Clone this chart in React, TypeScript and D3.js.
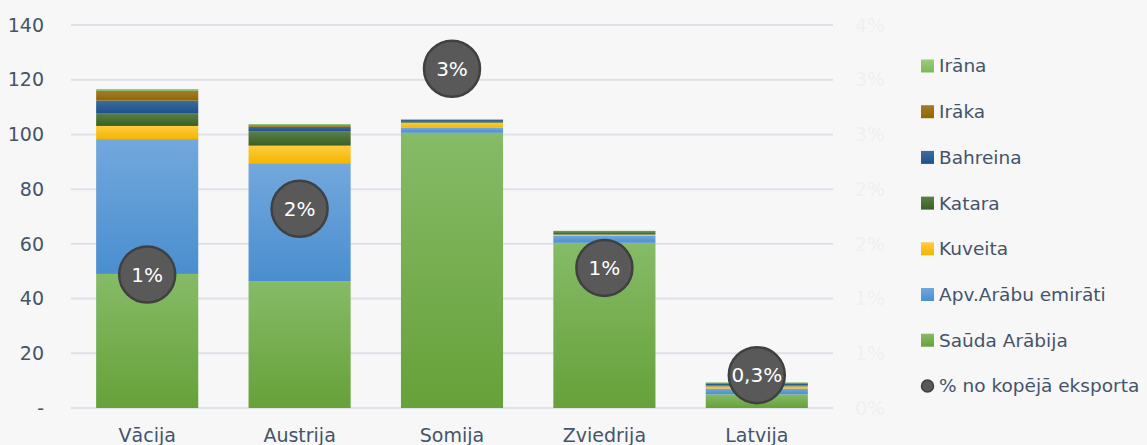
import React from "react";
import * as d3 from "d3";

const categories = ["Vācija", "Austrija", "Somija", "Zviedrija", "Latvija"];
const seriesNames = ["Saūda Arābija", "Apv.Arābu emirāti", "Kuveita", "Katara", "Bahreina", "Irāka", "Irāna"];
const saudaArabija = [49.0, 46.4, 100.6, 60.4, 5.0];
const apvArabuEmirati = [49.3, 43.1, 1.8, 2.6, 2.1];
const kuveita = [4.8, 6.4, 1.9, 0.4, 0.8];
const katara = [4.7, 5.3, 0.3, 0.9, 0.4];
const bahreina = [4.6, 1.6, 0.7, 0.3, 0.7];
const iraka = [3.5, 0.6, 0.1, 0.1, 0.2];
const irana = [0.7, 0.4, 0.2, 0.1, 0.2];
const shareOfExports = [1.22, 1.82, 3.1, 1.28, 0.3];
const shareLabels = ["1%", "2%", "3%", "1%", "0,3%"];
const leftTicks = [0, 20, 40, 60, 80, 100, 120, 140];
const rightTicks = [0, 0.5, 1, 1.5, 2, 2.5, 3, 3.5];
const rightTickLabels = ["0%", "1%", "1%", "2%", "2%", "3%", "3%", "4%"];
const legendOrder = ["Irāna", "Irāka", "Bahreina", "Katara", "Kuveita", "Apv.Arābu emirāti", "Saūda Arābija"];
const pctLegend = "% no kopējā eksporta";

const seriesValues = [saudaArabija, apvArabuEmirati, kuveita, katara, bahreina, iraka, irana];
const gradStops: Record<string, [string, string]> = {
  "Saūda Arābija": ["#86bb67", "#66a139"],
  "Apv.Arābu emirāti": ["#72a8dd", "#4a8ecf"],
  "Kuveita": ["#ffcc40", "#f3b600"],
  "Katara": ["#5b7f49", "#3a6022"],
  "Bahreina": ["#3f6c9a", "#1b528e"],
  "Irāka": ["#a47b2c", "#946600"],
  "Irāna": ["#9acd7a", "#7cb859"],
};

const W = 1147, H = 445;
const FONT = "Tahoma, 'DejaVu Sans', sans-serif";
const textColor = "#44546a";

export default function App() {
  const x = d3.scaleBand<string>().domain(categories).range([71, 833]).paddingInner(0.33).paddingOuter(0.165);
  const y = d3.scaleLinear().domain([0, 140]).range([408, 25]);
  const yR = d3.scaleLinear().domain([0, 3.5]).range([408, 25]);

  const rows = categories.map((c, i) => {
    const o: any = { cat: c };
    seriesNames.forEach((s, k) => (o[s] = seriesValues[k][i]));
    return o;
  });
  const stacked = d3.stack<any>().keys(seriesNames)(rows);
  const gid = (s: string) => "g" + seriesNames.indexOf(s);

  return (
    <svg width={W} height={H} style={{ position: "absolute", left: 0, top: 0, background: "#f7f7f7" }}>
      <defs>
        {seriesNames.map((s) => (
          <linearGradient key={s} id={gid(s)} x1="0" y1="0" x2="0" y2="1">
            <stop offset="0%" stopColor={gradStops[s][0]} />
            <stop offset="100%" stopColor={gradStops[s][1]} />
          </linearGradient>
        ))}
      </defs>
      <rect x={0} y={0} width={W} height={H} fill="#f7f7f7" />
      {leftTicks.map((t) => (
        <g key={t}>
          <line x1={71} x2={833} y1={y(t)} y2={y(t)} stroke="#dde2e8" strokeWidth={2} />
          <text x={44} y={y(t)} dy="0.35em" textAnchor="end" fontFamily={FONT} fontSize={19} fill={textColor}>
            {t === 0 ? "-" : t}
          </text>
        </g>
      ))}
      {rightTicks.map((t, i) => (
        <text key={t} x={855} y={yR(t)} dy="0.35em" textAnchor="start" fontFamily={FONT} fontSize={19} fill="#f0f0f0">
          {rightTickLabels[i]}
        </text>
      ))}
      {stacked.map((layer) => (
        <g key={layer.key} fill={`url(#${gid(layer.key)})`}>
          {layer.map((d, i) => (
            <rect key={i} x={x(categories[i])} width={x.bandwidth()} y={y(d[1])} height={Math.max(0, y(d[0]) - y(d[1]))} />
          ))}
        </g>
      ))}
      {categories.map((c, i) => (
        <g key={c}>
          <circle cx={x(c)! + x.bandwidth() / 2} cy={yR(shareOfExports[i])} r={28} fill="#595959" stroke="#404040" strokeWidth={2.5} />
          <text x={x(c)! + x.bandwidth() / 2} y={yR(shareOfExports[i])} dy="0.36em" textAnchor="middle" fontFamily={FONT} fontSize={20} fill="#ffffff">
            {shareLabels[i]}
          </text>
          <text x={x(c)! + x.bandwidth() / 2} y={442} textAnchor="middle" fontFamily={FONT} fontSize={19} fill={textColor}>
            {c}
          </text>
        </g>
      ))}
      {legendOrder.map((s, i) => (
        <g key={s} transform={`translate(921, ${66 + i * 45.7})`}>
          <rect x={0} y={-6.5} width={13} height={13} fill={`url(#${gid(s)})`} />
          <text x={18} y={0} dy="0.35em" fontFamily={FONT} fontSize={18.5} fill={textColor}>{s}</text>
        </g>
      ))}
      <g transform={`translate(921, ${66 + 7 * 45.7})`}>
        <circle cx={6.5} cy={0} r={6} fill="#595959" stroke="#404040" strokeWidth={1.5} />
        <text x={18} y={0} dy="0.35em" fontFamily={FONT} fontSize={18.5} fill={textColor}>{pctLegend}</text>
      </g>
    </svg>
  );
}
